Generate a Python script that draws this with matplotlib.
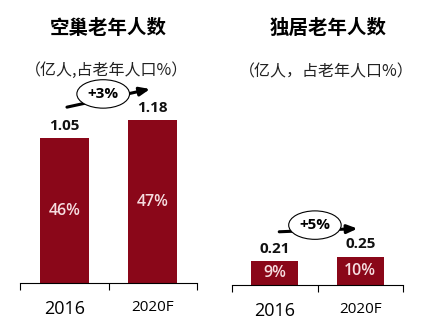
import matplotlib
matplotlib.use("Agg")
import matplotlib.pyplot as plt

# data
years = ["2016", "2020F"]
empty_nest = [1.05, 1.18]          # 亿人
empty_nest_share = ["46%", "47%"]
alone = [0.21, 0.25]               # 亿人
alone_share = ["9%", "10%"]
growth = ["+3%", "+5%"]
titles = ["空巢老年人数", "独居老年人数"]
subtitles = ["（亿人,占老年人口%）", "（亿人，占老年人口%）"]

BAR = "#8A0719"
CJK = ["Noto Sans CJK SC", "DejaVu Sans"]
NUM = ["Open Sans", "DejaVu Sans"]

W, H = 421, 335
fig = plt.figure(figsize=(W / 100, H / 100), dpi=100)


def px_axes(x0, y_top, w, y_base):
    return fig.add_axes([x0 / W, (H - y_base) / H, w / W, (y_base - y_top) / H])


def draw_panel(ax, vals, shares, ymax, tag, arrow_from, arrow_to, tag_xy):
    x = range(len(vals))
    ax.bar(x, vals, width=0.55, color=BAR, zorder=2)
    ax.set_xlim(-0.5, 1.5)
    ax.set_ylim(0, ymax)
    for s in ("top", "right", "left"):
        ax.spines[s].set_visible(False)
    ax.spines["bottom"].set_linewidth(0.8)
    ax.set_yticks([])
    ax.set_xticks(list(x))
    ax.set_xticklabels(years)
    ax.tick_params(axis="x", which="major", length=0, pad=12)
    ax.set_xticks([-0.5, 0.5, 1.5], minor=True)
    ax.tick_params(axis="x", which="minor", length=5, width=0.8, direction="out")
    labs = ax.get_xticklabels()
    labs[0].set_fontfamily(NUM)
    labs[0].set_fontsize(13)
    labs[1].set_fontfamily(NUM)
    labs[1].set_fontsize(11)
    for i, v in enumerate(vals):
        ax.annotate(f"{v:.2f}", (i, v), xytext=(0, 4), textcoords="offset points",
                    ha="center", va="bottom", fontsize=11, fontweight="bold",
                    family=NUM, color="#111111")
        ax.text(i, v / 2, shares[i], ha="center", va="center", fontsize=11.5,
                fontweight="semibold", family=NUM, color="#F6DDE0")
    ax.annotate("", xy=arrow_to, xytext=arrow_from,
                arrowprops=dict(arrowstyle="-|>,head_length=0.6,head_width=0.25",
                                lw=2.2, color="black"), zorder=3)
    ax.text(tag_xy[0], tag_xy[1], tag, ha="center", va="center", fontsize=11,
            fontweight="bold", family=NUM, zorder=4,
            bbox=dict(boxstyle="ellipse,pad=0.2", fc="white", ec="black", lw=0.8))


ax1 = px_axes(20, 40, 177, 283)
draw_panel(ax1, empty_nest, empty_nest_share, 243 / 138, growth[0],
           (0.0, 1.27), (1.0, 1.41), (0.44, 1.37))

ax2 = px_axes(232, 40, 171, 285)
draw_panel(ax2, alone, alone_share, 245 / 113, growth[1],
           (0.02, 0.47), (1.0, 0.50), (0.47, 0.53))

fig.text(108 / W, 1 - 28 / H, titles[0], ha="center", va="center",
         fontsize=14, fontweight="bold", family=CJK)
fig.text(328 / W, 1 - 28 / H, titles[1], ha="center", va="center",
         fontsize=14, fontweight="bold", family=CJK)
fig.text(107 / W, 1 - 70 / H, subtitles[0], ha="center", va="center",
         fontsize=11.5, family=CJK, color="#222222")
fig.text(326 / W, 1 - 72 / H, subtitles[1], ha="center", va="center",
         fontsize=11.5, family=CJK, color="#222222")

fig.savefig("out.png", dpi=100)
